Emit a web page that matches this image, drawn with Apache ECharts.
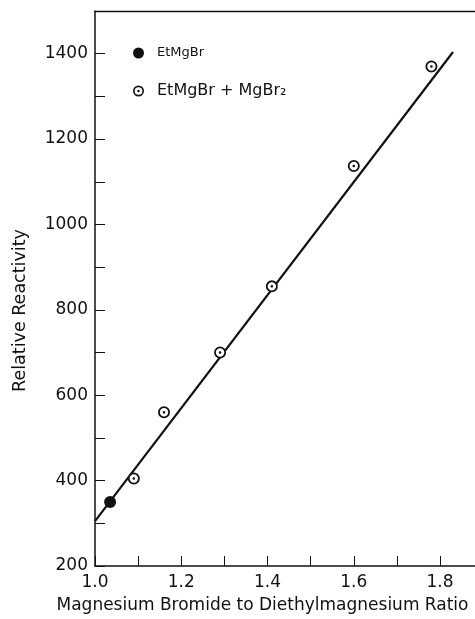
<!DOCTYPE html>
<html>
<head>
<meta charset="utf-8">
<script src="https://cdn.jsdelivr.net/npm/echarts@6/dist/echarts.min.js"></script>
<style>
html,body{margin:0;padding:0;background:#fff;}
#chart{width:475px;height:619px;}
</style>
</head>
<body>
<div id="chart"></div>
<script>
// ---- data ----
const seriesNames = ['EtMgBr', 'EtMgBr + MgBr\u2082'];
const etmgbrX = [1.035];
const etmgbrY = [350];
const mixX = [1.09, 1.16, 1.29, 1.41, 1.60, 1.78];
const mixY = [405, 560, 700, 855, 1137, 1370];
const fitX = [1.0, 1.83];
const fitY = [305, 1404];
const xTickLabels = ['1.0', '1.2', '1.4', '1.6', '1.8'];
const yTickLabels = ['200', '400', '600', '800', '1000', '1200', '1400'];
const xTitle = 'Magnesium Bromide to Diethylmagnesium Ratio';
const yTitle = 'Relative Reactivity';

const zip = (xs, ys) => xs.map((x, i) => [x, ys[i]]);
const FONT = 'DejaVu Sans';
const INK = '#111';
const ringPath = 'path://M0,-10A10,10,0,1,1,0,10A10,10,0,1,1,0,-10ZM0,-7A7,7,0,1,0,0,7A7,7,0,1,0,0,-7ZM0,-2.2A2.2,2.2,0,1,1,0,2.2A2.2,2.2,0,1,1,0,-2.2Z';
const X_MIN = 1.0, X_MAX = 1.881;

const chart = echarts.init(document.getElementById('chart'), null, {renderer: 'canvas'});
chart.setOption({
  animation: false,
  backgroundColor: '#fff',
  grid: {left: 95, right: 0, top: 11, bottom: 52},
  legend: [
    {
      data: [{name: seriesNames[0], icon: 'circle', textStyle: {fontSize: 13, lineHeight: 16}}],
      orient: 'vertical', left: 133, top: 45, padding: 0,
      itemWidth: 27, itemHeight: 11,
      textStyle: {fontFamily: FONT, color: INK}
    },
    {
      data: [{name: seriesNames[1], icon: ringPath, textStyle: {fontSize: 16, lineHeight: 20}}],
      orient: 'vertical', left: 133, top: 81, padding: 0,
      itemWidth: 27, itemHeight: 11,
      textStyle: {fontFamily: FONT, color: INK}
    }
  ],
  xAxis: [
    {
      type: 'value', min: X_MIN, max: X_MAX, interval: 0.1,
      name: xTitle, nameLocation: 'middle', nameGap: 31,
      nameTextStyle: {fontFamily: FONT, fontSize: 17, color: INK, padding: [0, 45, 0, 0]},
      axisLine: {show: true, lineStyle: {color: INK, width: 1.5}},
      axisTick: {show: true, inside: true, length: 10, lineStyle: {color: INK, width: 1}},
      splitLine: {show: false},
      axisLabel: {
        margin: 8, fontFamily: FONT, fontSize: 17, color: INK, showMaxLabel: false,
        formatter: v => { const s = v.toFixed(1); return xTickLabels.includes(s) ? s : ''; }
      }
    },
    {
      type: 'value', position: 'top', min: X_MIN, max: X_MAX,
      axisLine: {show: true, onZero: false, lineStyle: {color: INK, width: 1.3}},
      axisTick: {show: false}, axisLabel: {show: false}, splitLine: {show: false}
    }
  ],
  yAxis: {
    type: 'value', min: 200, max: 1500, interval: 100,
    name: yTitle, nameLocation: 'middle', nameGap: 66,
    nameTextStyle: {fontFamily: FONT, fontSize: 17.5, color: INK, padding: [0, 44, 0, 0]},
    axisLine: {show: true, onZero: false, lineStyle: {color: INK, width: 1.5}},
    axisTick: {show: true, inside: true, length: 10, lineStyle: {color: INK, width: 1}},
    splitLine: {show: false},
    axisLabel: {
      margin: 7, fontFamily: FONT, fontSize: 17, color: INK,
      formatter: v => { const s = String(Math.round(v)); return yTickLabels.includes(s) ? s : ''; }
    }
  },
  series: [
    {
      name: 'fit', type: 'line', data: zip(fitX, fitY), showSymbol: false, symbol: 'none',
      lineStyle: {color: INK, width: 2.2}, silent: true, z: 2
    },
    {
      name: 'mask', type: 'scatter', data: zip(mixX, mixY), symbol: 'circle', symbolSize: 11,
      itemStyle: {color: '#fff', opacity: 1}, silent: true, z: 3
    },
    {
      name: seriesNames[1], type: 'scatter', data: zip(mixX, mixY), symbol: ringPath, symbolSize: 12,
      itemStyle: {color: INK, opacity: 1}, z: 4
    },
    {
      name: seriesNames[0], type: 'scatter', data: zip(etmgbrX, etmgbrY), symbol: 'circle', symbolSize: 12,
      itemStyle: {color: INK, opacity: 1}, z: 4
    }
  ]
});
</script>
</body>
</html>
